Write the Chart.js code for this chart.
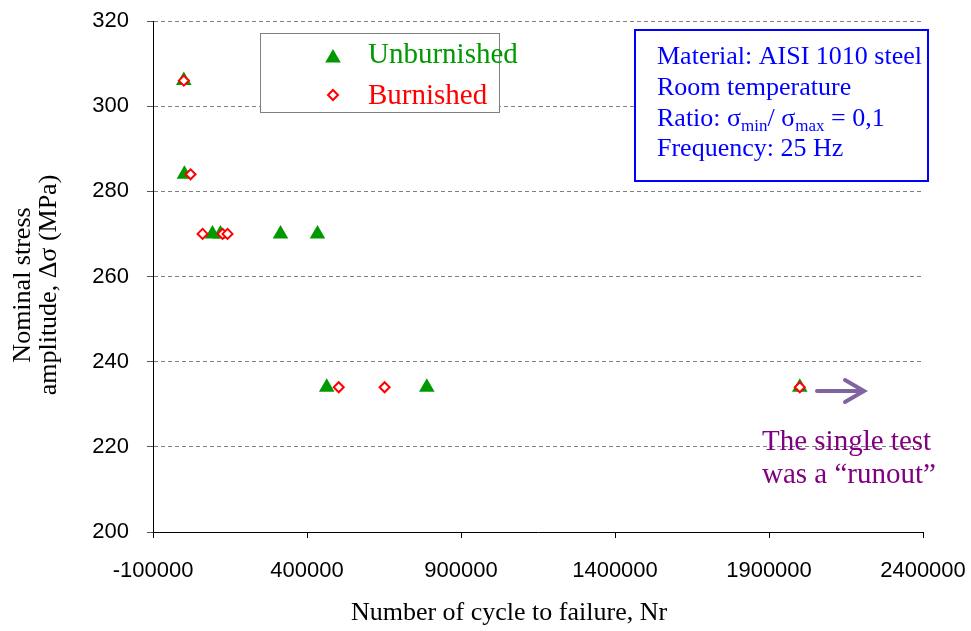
<!DOCTYPE html>
<html>
<head>
<meta charset="utf-8">
<script src="https://cdn.jsdelivr.net/npm/chart.js@4.4.1/dist/chart.umd.min.js"></script>
<style>
  body { margin: 0; background: #fff; }
  canvas { display: block; }
</style>
</head>
<body>
<canvas id="snChart" width="971" height="631"></canvas>
<script>
// S-N data (cycles, stress amplitude MPa)
const unburnishedCycles = [0, 2000, 93000, 119000, 314000, 434000, 464000, 789000, 2000000];
const unburnishedStress = [306, 284, 270, 270, 270, 270, 234, 234, 234];
const burnishedCycles = [0, 22000, 61000, 126000, 142000, 503000, 652000, 2000000];
const burnishedStress = [306, 284, 270, 270, 270, 234, 234, 234];

const xTicks = [-100000, 400000, 900000, 1400000, 1900000, 2400000];
const yTicks = [200, 220, 240, 260, 280, 300, 320];

const SERIF = "'Liberation Serif', 'Times New Roman', serif";
const SANS = "'Liberation Sans', Arial, sans-serif";
const GREEN = "#009900";
const RED = "#ff0000";
const BLUE = "#0000ff";
const PURPLE = "#800080";

function toPoints(xs, ys) {
  return xs.map((x, i) => ({ x: x, y: ys[i] }));
}

function triangle(ctx, x, y, r) {
  ctx.beginPath();
  ctx.moveTo(x, y - r);
  ctx.lineTo(x + r * 0.866, y + r * 0.5);
  ctx.lineTo(x - r * 0.866, y + r * 0.5);
  ctx.closePath();
  ctx.fillStyle = GREEN;
  ctx.fill();
}

function diamond(ctx, x, y, r) {
  ctx.beginPath();
  ctx.moveTo(x, y - r);
  ctx.lineTo(x + r, y);
  ctx.lineTo(x, y + r);
  ctx.lineTo(x - r, y);
  ctx.closePath();
  ctx.fillStyle = "#fff";
  ctx.fill();
  ctx.lineWidth = 2;
  ctx.strokeStyle = RED;
  ctx.stroke();
}

// boxes, texts and the runout arrow
const annotations = {
  id: "annotations",
  afterDraw(chart) {
    const ctx = chart.ctx;
    ctx.save();

    // legend box
    ctx.fillStyle = "#fff";
    ctx.fillRect(260.5, 33.5, 239, 79);
    ctx.strokeStyle = "#808080";
    ctx.lineWidth = 1;
    ctx.strokeRect(260.5, 33.5, 239, 79);
    triangle(ctx, 333, 58, 9);
    diamond(ctx, 333, 95, 5);
    ctx.font = "29px " + SERIF;
    ctx.textBaseline = "alphabetic";
    ctx.textAlign = "left";
    ctx.fillStyle = GREEN;
    ctx.fillText("Unburnished", 368, 63);
    ctx.fillStyle = RED;
    ctx.fillText("Burnished", 368, 104);

    // test conditions box
    ctx.fillStyle = "#fff";
    ctx.fillRect(635, 30, 293, 151);
    ctx.strokeStyle = BLUE;
    ctx.lineWidth = 2;
    ctx.strokeRect(635, 30, 293, 151);
    ctx.fillStyle = BLUE;
    ctx.font = "26px " + SERIF;
    ctx.fillText("Material: AISI 1010 steel", 657, 64);
    ctx.fillText("Room temperature", 657, 95);
    let x = 657;
    const parts = [["Ratio: σ", 0], ["min", 1], ["/ σ", 0], ["max", 1], " = 0,1"];
    parts.forEach(p => {
      const txt = Array.isArray(p) ? p[0] : p;
      const sub = Array.isArray(p) && p[1];
      ctx.font = (sub ? "17px " : "26px ") + SERIF;
      ctx.fillText(txt, x, sub ? 131 : 126);
      x += ctx.measureText(txt).width;
    });
    ctx.font = "26px " + SERIF;
    ctx.fillText("Frequency: 25 Hz", 657, 156);

    // runout arrow
    ctx.strokeStyle = "#8064a2";
    ctx.lineWidth = 4;
    ctx.lineCap = "round";
    ctx.beginPath();
    ctx.moveTo(817, 391);
    ctx.lineTo(864, 391);
    ctx.moveTo(845, 380);
    ctx.lineTo(864, 391);
    ctx.lineTo(845, 402);
    ctx.stroke();

    ctx.fillStyle = PURPLE;
    ctx.font = "29px " + SERIF;
    ctx.fillText("The single test", 762, 450);
    ctx.fillText("was a \u201crunout\u201d", 762, 483);

    // axis titles
    ctx.fillStyle = "#000";
    ctx.font = "26px " + SERIF;
    ctx.textAlign = "center";
    ctx.fillText("Number of cycle to failure, Nr", 509, 620);
    ctx.save();
    ctx.translate(0, 285);
    ctx.rotate(-Math.PI / 2);
    ctx.fillText("Nominal stress", 0, 30);
    ctx.fillText("amplitude, \u0394\u03c3 (MPa)", 0, 56);
    ctx.restore();

    ctx.restore();
  }
};

const chart = new Chart(document.getElementById("snChart"), {
  type: "scatter",
  data: {
    datasets: [
      {
        label: "Unburnished",
        data: toPoints(unburnishedCycles, unburnishedStress),
        pointStyle: "triangle",
        pointRadius: 9,
        pointBorderWidth: 0,
        backgroundColor: GREEN,
        borderColor: GREEN,
        order: 2
      },
      {
        label: "Burnished",
        data: toPoints(burnishedCycles, burnishedStress),
        pointStyle: "rectRot",
        pointRadius: 5,
        pointBorderWidth: 2,
        backgroundColor: "#fff",
        borderColor: RED,
        order: 1
      }
    ]
  },
  options: {
    responsive: false,
    devicePixelRatio: 1,
    animation: false,
    events: [],
    layout: { padding: { top: 21, right: 48, left: 0, bottom: 0 } },
    plugins: { legend: { display: false }, tooltip: { enabled: false } },
    scales: {
      x: {
        type: "linear",
        min: -100000,
        max: 2400000,
        afterBuildTicks: s => { s.ticks = xTicks.map(v => ({ value: v })); },
        afterFit: s => { s.height = 99; s.paddingLeft = 0; s.paddingRight = 0; },
        ticks: {
          font: { family: SANS, size: 22 },
          color: "#000",
          padding: 20,
          maxRotation: 0,
          autoSkip: false,
          callback: v => String(v)
        },
        grid: { drawOnChartArea: false, drawTicks: true, tickLength: 6, tickColor: "#000" },
        border: { display: true, color: "#000", width: 1 }
      },
      y: {
        min: 200,
        max: 320,
        afterBuildTicks: s => { s.ticks = yTicks.map(v => ({ value: v })); },
        afterFit: s => { s.width = 153; s.paddingTop = 0; s.paddingBottom = 0; },
        ticks: {
          font: { family: SANS, size: 22 },
          color: "#000",
          padding: 18,
          autoSkip: false
        },
        grid: {
          color: "#808080",
          lineWidth: 1,
          drawTicks: true,
          tickLength: 6,
          tickColor: "#555",
          tickBorderDash: []
        },
        border: { display: true, color: "#000", width: 1, dash: [4, 3] }
      }
    }
  },
  plugins: [annotations]
});
</script>
</body>
</html>
